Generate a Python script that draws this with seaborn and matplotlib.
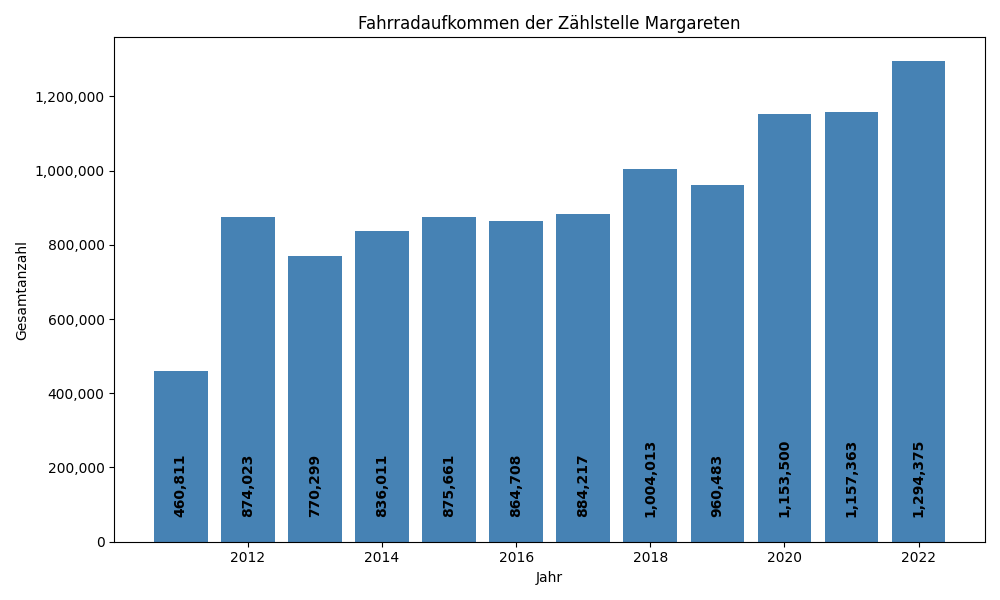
import seaborn as sns
import matplotlib.pyplot as plt
import matplotlib.ticker as mticker
import pandas as pd

# Jahreswerte der Zählstelle
years = [2011, 2012, 2013, 2014, 2015, 2016, 2017, 2018, 2019, 2020, 2021, 2022]
totals = [460811, 874023, 770299, 836011, 875661, 864708, 884217, 1004013, 960483, 1153500, 1157363, 1294375]

df = pd.DataFrame({'Jahr': years, 'Gesamtanzahl': totals})

fig, ax = plt.subplots(figsize=(10, 6))
sns.barplot(data=df, x='Jahr', y='Gesamtanzahl', native_scale=True, color='steelblue',
            saturation=1, width=0.8, errorbar=None, ax=ax)

# Werte in die Balken schreiben
for yr, val in zip(df['Jahr'], df['Gesamtanzahl']):
    ax.text(yr, 66000, f'{val:,}', rotation=90, ha='center', va='bottom',
            fontweight='bold', fontsize=10, color='black')

ax.yaxis.set_major_formatter(mticker.FuncFormatter(lambda v, p: f'{int(v):,}'))
ax.set_title('Fahrradaufkommen der Zählstelle Margareten')
ax.set_xlabel('Jahr')
ax.set_ylabel('Gesamtanzahl')
plt.tight_layout()
plt.savefig('out.png', dpi=100)
